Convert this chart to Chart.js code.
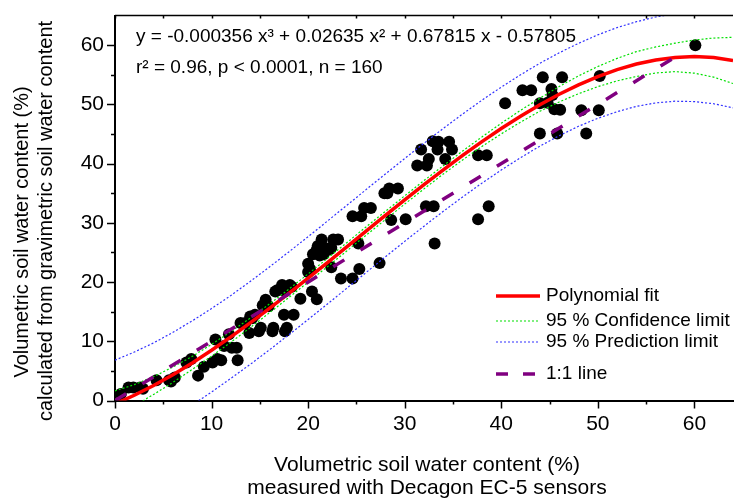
<!DOCTYPE html>
<html>
<head>
<meta charset="utf-8">
<script src="https://cdn.jsdelivr.net/npm/chart.js@4.4.0/dist/chart.umd.min.js"></script>
<style>
  html, body { margin: 0; padding: 0; background: #fff; }
  #wrap { width: 739px; height: 499px; }
</style>
</head>
<body>
<div id="wrap"><canvas id="ec5Chart" width="739" height="499"></canvas></div>
<script>
// EC-5 sensor reading vs. gravimetric water content (both in %)
var sensorX = [
    0.6, 1.4, 1.9, 2.6, 2.9, 4.3, 5.6, 6.2, 5.8, 7.4, 7.9, 8.6, 9.2, 10.1, 10.6, 10.4,
    11.3, 12.1, 12.6, 12.7, 11.0, 11.8, 13.0, 13.5, 14.2, 13.9, 14.9, 16.3, 17.5, 18.5,
    17.6, 15.3, 15.6, 16.6, 19.2, 14.5, 14.0, 15.1, 16.4, 17.8, 15.9, 15.4, 17.3, 18.1,
    18.3, 16.8, 17.6, 20.4, 20.9, 20.0, 20.2, 20.0, 21.0, 21.7, 22.2, 21.6, 20.5, 21.2,
    22.6, 23.1, 22.4, 22.4, 23.4, 24.6, 25.3, 25.2, 24.6, 25.5, 25.8, 26.5, 27.4, 28.2,
    28.6, 27.9, 28.4, 29.3, 30.1, 31.7, 31.3, 32.3, 32.5, 32.2, 33.0, 33.1, 32.9, 33.5,
    34.6, 33.4, 34.2, 34.9, 37.6, 38.5, 38.7, 37.6, 40.4, 42.2, 43.1, 44.3, 46.3, 45.2,
    45.3, 44.0, 44.8, 45.5, 46.1, 48.3, 50.1, 50.2, 44.0, 45.8, 48.8, 60.1, 21.4, 20.9
];
var gravY = [
    1.1, 2.2, 2.2, 2.2, 2.0, 3.4, 3.4, 3.9, 3.2, 6.4, 7.0, 4.2, 5.7, 6.4, 7.0, 10.3,
    9.2, 8.9, 8.9, 6.8, 6.8, 11.2, 13.1, 13.1, 13.9, 11.4, 11.7, 11.7, 14.5, 14.5,
    11.7, 16.1, 17.0, 18.4, 17.2, 14.5, 14.2, 12.3, 12.3, 12.3, 15.9, 15.9, 19.5, 19.5,
    19.2, 18.6, 18.4, 18.4, 17.1, 23.1, 22.2, 21.7, 26.1, 25.8, 25.5, 24.7, 24.7, 24.5,
    27.2, 27.2, 25.8, 22.5, 20.6, 20.6, 22.2, 26.5, 31.1, 31.1, 32.5, 32.5, 23.2, 35.0,
    30.5, 35.0, 35.8, 35.8, 30.6, 42.4, 39.7, 39.7, 40.8, 32.8, 32.8, 26.5, 43.8, 43.7,
    43.7, 42.4, 40.8, 42.4, 41.4, 41.4, 32.8, 30.6, 50.2, 52.4, 52.4, 54.6, 54.6, 52.6,
    51.6, 50.2, 50.3, 49.2, 49.1, 49.0, 49.0, 54.8, 45.1, 45.1, 45.1, 60.0, 27.2, 25.5
];

// polynomial fit and its 95 % bands
var bandX = [0, 2, 4, 6, 8, 10, 12, 14, 16, 18, 20, 22, 24, 26, 28, 30, 32,
             34, 36, 38, 40, 42, 44, 46, 48, 50, 52, 54, 56, 58, 60, 62, 64];
var fitY = [-0.58, 0.88, 2.53, 4.36, 6.35, 8.48, 10.74, 13.10, 15.56, 18.09, 20.68,
            23.30, 25.95, 28.61, 31.25, 33.87, 36.44, 38.95, 41.38, 43.71, 45.92,
            48.01, 49.95, 51.72, 53.31, 54.70, 55.88, 56.82, 57.51, 57.94, 58.08, 57.91, 57.43];
var confUpper = [1.62, 2.68, 4.03, 5.66, 7.45, 9.48, 11.64, 13.90, 16.31, 18.79, 21.38,
                 24.00, 26.65, 29.31, 31.95, 34.57, 37.14, 39.65, 42.13, 44.51, 46.82,
                 49.01, 51.05, 53.02, 54.81, 56.40, 57.78, 58.92, 59.71, 60.34, 60.88, 61.21, 61.33];
var confLower = [-2.78, -0.92, 1.03, 3.06, 5.25, 7.48, 9.84, 12.30, 14.81, 17.39, 19.98,
                 22.60, 25.25, 27.91, 30.55, 33.17, 35.74, 38.25, 40.63, 42.91, 45.02,
                 47.01, 48.85, 50.42, 51.81, 53.00, 53.98, 54.72, 55.31, 55.54, 55.28, 54.61, 53.53];
var predUpper = [6.82, 8.18, 9.73, 11.51, 13.45, 15.53, 17.74, 20.10, 22.56, 25.09, 27.68,
                 30.30, 32.95, 35.61, 38.25, 40.87, 43.44, 45.95, 48.38, 50.71, 52.92,
                 55.01, 56.95, 58.72, 60.31, 61.75, 62.98, 63.97, 64.76, 65.34, 65.68, 65.71, 65.43];
var predLower = [-7.98, -6.42, -4.67, -2.79, -0.75, 1.43, 3.74, 6.10, 8.56, 11.09, 13.68,
                 16.30, 18.95, 21.61, 24.25, 26.87, 29.44, 31.95, 34.38, 36.71, 38.92,
                 41.01, 42.95, 44.72, 46.31, 47.65, 48.78, 49.67, 50.26, 50.54, 50.48, 50.11, 49.43];

var oneToOneX = [0, 59];
var oneToOneY = [0, 59];

var xTicks = [0, 5, 10, 15, 20, 25, 30, 35, 40, 45, 50, 55, 60];
var yTicks = [0, 5, 10, 15, 20, 25, 30, 35, 40, 45, 50, 55, 60];

var equationText = 'y = -0.000356 x\u00b3 + 0.02635 x\u00b2 + 0.67815 x - 0.57805';
var statsText = 'r\u00b2 = 0.96, p < 0.0001, n = 160';
var legendLabels = ['Polynomial fit', '95 % Confidence limit', '95 % Prediction limit', '1:1 line'];

var FONT = '"Liberation Sans", Arial, sans-serif';

function pairs(xs, ys) {
    var out = [];
    for (var i = 0; i < xs.length; i++) out.push({x: xs[i], y: ys[i]});
    return out;
}

function lineSet(label, xs, ys, color, width, dash) {
    return {
        type: 'line',
        label: label,
        data: pairs(xs, ys),
        borderColor: color,
        borderWidth: width,
        borderDash: dash,
        pointRadius: 0,
        fill: false,
        tension: 0,
        clip: 0
    };
}

var decor = {
    id: 'decor',
    beforeDraw: function(chart) {
        var ctx = chart.ctx;
        ctx.save();
        ctx.fillStyle = '#fff';
        ctx.fillRect(0, 0, chart.width, chart.height);
        ctx.restore();
    },
    afterDraw: function(chart) {
        var ctx = chart.ctx, a = chart.chartArea;
        var x = chart.scales.x, y = chart.scales.y;
        ctx.save();
        ctx.strokeStyle = '#000';
        ctx.lineWidth = 1.5;
        ctx.setLineDash([]);

        // top frame line with small inward ticks
        ctx.beginPath();
        ctx.moveTo(a.left, a.top);
        ctx.lineTo(a.right, a.top);
        ctx.stroke();

        ctx.beginPath();
        xTicks.forEach(function(v) {
            var px = Math.round(x.getPixelForValue(v)) + 0.5;
            var len = v % 10 === 0 ? 8 : 4;
            ctx.moveTo(px, a.bottom);
            ctx.lineTo(px, a.bottom + len);
            ctx.moveTo(px, a.top);
            ctx.lineTo(px, a.top + 3);
        });
        yTicks.forEach(function(v) {
            var py = Math.round(y.getPixelForValue(v)) + 0.5;
            var len = v % 10 === 0 ? 8 : 4;
            ctx.moveTo(a.left, py);
            ctx.lineTo(a.left - len, py);
        });
        ctx.stroke();

        ctx.fillStyle = '#000';

        // axis titles
        ctx.font = '21px ' + FONT;
        ctx.textAlign = 'center';
        ctx.textBaseline = 'middle';
        var cx = (a.left + a.right) / 2 + 3;
        ctx.fillText('Volumetric soil water content (%)', cx, 465);
        ctx.fillText('measured with Decagon EC-5 sensors', cx, 488);

        ctx.font = '20px ' + FONT;
        ctx.save();
        ctx.translate(22, 232);
        ctx.rotate(-Math.PI / 2);
        ctx.fillText('Volumetric soil water content (%)', 0, 0);
        ctx.restore();
        ctx.save();
        ctx.translate(46, 221);
        ctx.rotate(-Math.PI / 2);
        ctx.fillText('calculated from gravimetric soil water content', 0, 0);
        ctx.restore();

        // equation and statistics
        ctx.font = '19px ' + FONT;
        ctx.textAlign = 'left';
        ctx.fillText(equationText, 136, 37);
        ctx.fillText(statsText, 136, 68);

        // legend
        var lx0 = 496, lx1 = 540, tx = 546;
        var rows = [296, 321, 342, 374];
        var styles = [
            {c: '#ff0000', w: 3.5, d: []},
            {c: '#00e000', w: 1.2, d: [2, 2]},
            {c: '#3030ff', w: 1.2, d: [2, 2]},
            {c: '#800080', w: 3.5, d: [12, 15]}
        ];
        styles.forEach(function(s, i) {
            ctx.beginPath();
            ctx.strokeStyle = s.c;
            ctx.lineWidth = s.w;
            ctx.setLineDash(s.d);
            ctx.moveTo(lx0, rows[i]);
            ctx.lineTo(lx1, rows[i]);
            ctx.stroke();
            ctx.fillText(legendLabels[i], tx, rows[i]);
        });
        ctx.restore();
    }
};

function onlyTens(scale) {
    scale.ticks = scale.ticks.filter(function(t) { return t.value % 10 === 0; });
}

new Chart(document.getElementById('ec5Chart'), {
    type: 'scatter',
    data: {
        datasets: [
            lineSet('1:1 line', oneToOneX, oneToOneY, '#800080', 3.5, [13, 19]),
            lineSet('Polynomial fit', bandX, fitY, '#ff0000', 3.5, []),
            lineSet('Upper 95% confidence', bandX, confUpper, '#00e000', 1.2, [2, 2]),
            lineSet('Lower 95% confidence', bandX, confLower, '#00e000', 1.2, [2, 2]),
            lineSet('Upper 95% prediction', bandX, predUpper, '#3030ff', 1.2, [2, 2]),
            lineSet('Lower 95% prediction', bandX, predLower, '#3030ff', 1.2, [2, 2]),
            {
                label: 'Samples',
                data: pairs(sensorX, gravY),
                backgroundColor: '#000',
                borderColor: '#000',
                pointRadius: 6,
                borderWidth: 0,
                clip: false
            }
        ]
    },
    options: {
        responsive: false,
        animation: false,
        layout: { padding: { top: 9.5, right: 0, left: 0, bottom: 0 } },
        plugins: {
            legend: { display: false },
            tooltip: { enabled: false }
        },
        scales: {
            x: {
                type: 'linear',
                min: 0,
                max: 64,
                afterBuildTicks: onlyTens,
                afterFit: function(s) { s.height = 98.5; },
                grid: { display: false },
                border: { display: true, color: '#000', width: 2 },
                ticks: {
                    stepSize: 10,
                    color: '#000',
                    font: { family: FONT, size: 21 },
                    maxRotation: 0
                }
            },
            y: {
                type: 'linear',
                min: 0,
                max: 65,
                afterBuildTicks: onlyTens,
                afterFit: function(s) { s.width = 115; },
                grid: { display: false },
                border: { display: true, color: '#000', width: 2 },
                ticks: {
                    stepSize: 10,
                    color: '#000',
                    font: { family: FONT, size: 21 }
                }
            }
        }
    },
    plugins: [decor]
});
</script>
</body>
</html>
